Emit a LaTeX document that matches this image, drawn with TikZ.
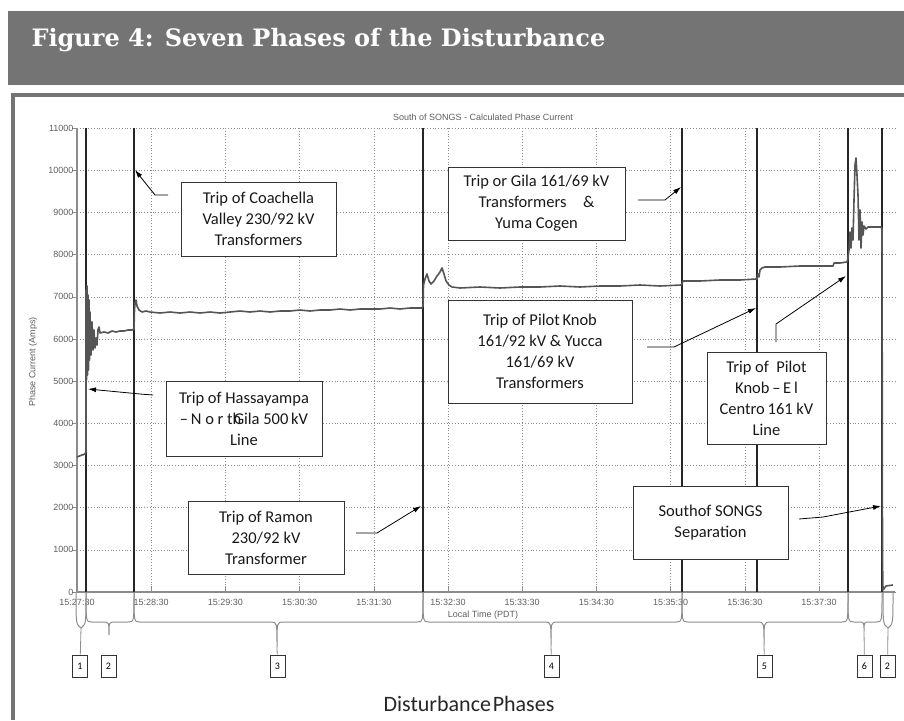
\documentclass[tikz,border=0pt]{standalone}
\usepackage{fontspec}
\usetikzlibrary{arrows.meta}
\newfontfamily\calib{Carlito}
\newfontfamily\arl{Liberation Sans}
\newfontfamily\ttlfont{DejaVu Serif}
\definecolor{bann}{HTML}{747474}
\definecolor{trace}{HTML}{555555}
\definecolor{axgray}{HTML}{8C8C8C}
\definecolor{txgray}{HTML}{5E5E5E}
\begin{document}
\begin{tikzpicture}[x=1pt,y=-1pt,>={Latex[length=8pt,width=5pt]},
    note/.style={draw=black!80,fill=white,line width=.9pt,align=center,inner sep=0pt,text=black!90,font=\calib\fontsize{16.5}{21}\selectfont},
    phs/.style={draw=black!80,fill=white,line width=.8pt,minimum width=15pt,minimum height=22pt,inner sep=0pt,font=\calib\fontsize{10}{12}\selectfont},
    small/.style={text=txgray,font=\arl\fontsize{9}{10}\selectfont},
    grid/.style={axgray,dash pattern=on .8pt off 2pt},
    brc/.style={axgray,line width=1pt}]
    \useasboundingbox (0,0) rectangle (904,720);
    \fill[bann](8,11)rectangle(904,85);
    \node[anchor=base west,text=white,font=\ttlfont\bfseries\fontsize{24}{28}\selectfont] (ttl) at (28,46) {Figure 4: Seven Phases of the Disturbance};
    \fill[bann](11,93)rectangle(904,97);
    \fill[bann](11,93)rectangle(15,720);
    \node[small] (ptitle) at (483,117) {South of SONGS - Calculated Phase Current};
    \foreach \v in {0,1,...,11}
    {
        \pgfmathsetmacro\yy{592-42.18*\v}
        \pgfmathtruncatemacro\lab{1000*\v}
        \draw[grid](77,\yy)--(895,\yy);
        \draw[axgray](72,\yy)--(77,\yy)node[small,left](yl\v){\lab};
    }
    \foreach \m [count=\i from 0] in {27,...,37}
    {
        \pgfmathsetmacro\xx{77+74.2*\i}
        \draw[grid](\xx,128)--(\xx,592);
        \draw[axgray](\xx,592)--(\xx,586);
        \node[small] (xl\i) at (\xx,602) {15:\m:30};
    }
    \draw[axgray,line width=1.2pt](77,128)--(77,592)--(895,592);
    \node[small] (xlab) at (483,615) {Local Time (PDT)};
    \node[small,rotate=90] (ylab) at (33,362) {Phase Current (Amps)};
    \foreach \x in {86,134,423,682,757,848,882}
    {
        \draw[line width=1.1pt,black!85](\x,128)--(\x,592);
    }
    \draw[trace,line width=1.6pt,line join=round] plot coordinates {(77,457)(82,455)(85,454)(86,452)(86,290)(86.5,380)(87,286)(87.5,375)(88,295)(88.5,370)(89,300)(89.5,360)(90,312)(91,355)(92,322)(93,350)(94,330)(95,348)(96,338)(97,345)(98,330)(99,327)(100,333)(104,332)(108,333)(112,331)(116,332)(120,331)(124,331)(128,330)(132,330)(134,329)(134.5,310)(135,303)(136,300)(137,306)(139,310)(142,312)(146,311)(150,312)(160,313)(170,312)(180,313)(190,312)(200,313)(210,312)(220,313)(230,312)(240,311)(250,312)(260,311)(270,312)(280,311)(290,311)(300,310)(310,311)(320,310)(330,310)(340,309)(350,310)(360,309)(370,309)(380,309)(390,308)(400,309)(410,308)(422,308)(423,306)(423.5,285)(425,279)(427,274)(429,281)(431,284)(434,281)(437,276)(440,272)(442,268)(444,274)(446,281)(449,285)(452,287)(460,288)(480,287)(500,288)(520,287)(540,287)(560,286)(580,287)(600,286)(620,286)(640,285)(660,286)(681,285)(682,284)(683,281)(700,281)(720,280)(740,280)(756,279)(757,279)(758,274)(759,277)(760,270)(762,268)(765,267)(780,267)(800,266)(820,266)(833,266)(834,263)(840,263)(847,262)(848,258)(849,250)(850,232)(851,248)(852,228)(853,240)(854,200)(855,165)(856,158)(857,175)(858,195)(859,240)(860,210)(861,248)(862,222)(863,235)(864,226)(866,229)(868,227)(875,227)(881,227)(882,229)(882.5,560)(883,590)(886,586)(893,585)};
    \node[note,minimum width=155pt,minimum height=74pt] (coach) at (258.5,219) {Trip of Coachella\\Valley 230/92 kV\\Transformers};
    \node[note,minimum width=156pt,minimum height=75pt] (hass) at (244,418.5) {Trip of Hassayampa\\–\,N o r t\rlap{h}\kern1pt Gila 500\,kV\\Line};
    \node[note,minimum width=156pt,minimum height=73pt] (ramon) at (266,537.5) {Trip of Ramon\\230/92 kV\\Transformer};
    \node[note,minimum width=177pt,minimum height=73pt] (gila) at (536.5,203.5) {Trip or Gila 161/69 kV\\Transformers\quad \&\\Yuma Cogen};
    \node[note,minimum width=184pt,minimum height=103pt] (pilot) at (540,351.5) {Trip of Pilot\,Knob\\161/92 kV \& Yucca\\161/69 kV\\Transformers};
    \node[note,minimum width=119pt,minimum height=92pt] (elc) at (766.5,398) {Trip of \ Pilot\\Knob\,–\,E\,l\\Centro\,161 kV\\Line};
    \node[note,minimum width=155pt,minimum height=73pt] (songs) at (710.5,522.5) {Southof SONGS\\Separation};
    \foreach \n/\s/\m/\t in {coach/{168,195}/{155,195}/{135,170},hass/{153,395}/{140,394}/{88,389},ramon/{356,533}/{377,533}/{421,506},gila/{638,200}/{665,200}/{681,187},pilot/{647,347}/{674,347}/{756,308},elc/{776,342}/{776,324}/{846,276},songs/{799,519}/{823,517}/{881,506}}
    {
        \coordinate (\n s) at (\s);
        \coordinate (\n m) at (\m);
        \coordinate (\n t) at (\t);
        \draw[->,line width=.8pt](\n s)--(\n m)--(\n t);
    }
    \foreach \n/\a/\b/\m/\t in {2/86/134/109/635,3/134/423/277/647,4/423/682/551/645,5/682/848/764/645,6/848/882/864/631}
    {
        \draw[brc](\a,593)..controls(\a,622)..(\a+6,622)--(\m-6,622)..controls(\m,622)..(\m,\t)..controls(\m,622)..(\m+6,622)--(\b-6,622)..controls(\b,622)..(\b,593);
        \coordinate (tip\n) at (\m,\t);
    }
    \draw[brc](76,593)..controls(76,624)..(81,628)..controls(86,624)..(86,593);
    \coordinate (tip1) at (81,628);
    \draw[brc](883,593)..controls(883,624)..(888,628)..controls(893,624)..(893,593);
    \coordinate (tip7) at (888,628);
    \foreach \n/\x/\lab in {1/80/1,2/108.5/2,3/277.5/3,4/551.5/4,5/764.5/5,6/864.5/6,7/887.5/2}
    {
        \node[phs] (ph\n) at (\x,666) {\lab};
    }
    \foreach \n in {1,3,4,5,6,7}
    {
        \draw[brc,line width=.8pt](tip\n)--(ph\n);
    }
    \node[anchor=base,text=black!85,font=\calib\fontsize{22}{26}\selectfont] (dph) at (469,711) {Disturbance\hspace{.08em}Phases};
\end{tikzpicture}
\end{document}
